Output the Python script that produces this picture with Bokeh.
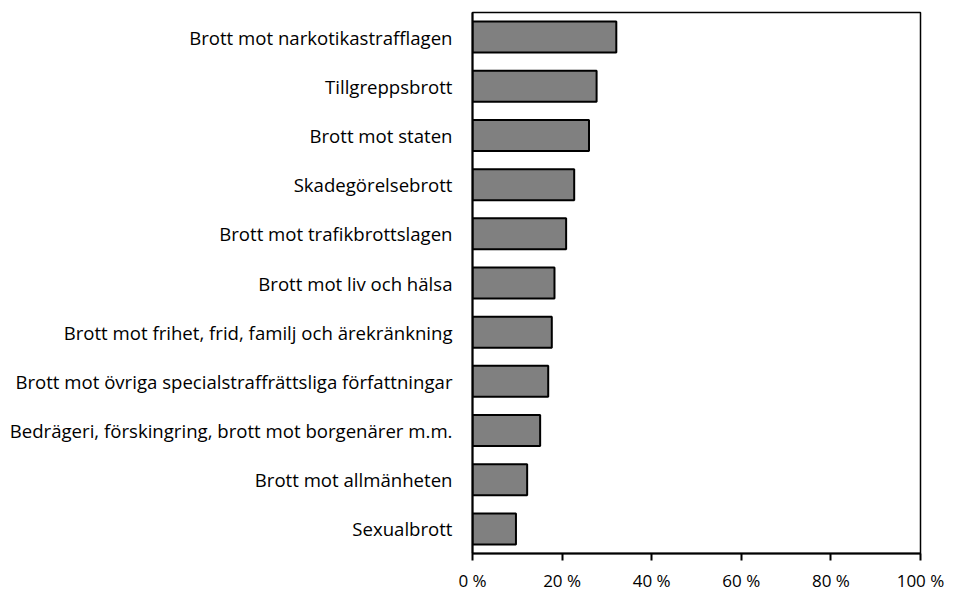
from bokeh.plotting import figure
from bokeh.models import FactorRange, Range1d, FixedTicker, ColumnDataSource
from bokeh.embed import file_html
from bokeh.resources import INLINE

categories = [
    "Brott mot narkotikastrafflagen",
    "Tillgreppsbrott",
    "Brott mot staten",
    "Skadegörelsebrott",
    "Brott mot trafikbrottslagen",
    "Brott mot liv och hälsa",
    "Brott mot frihet, frid, familj och ärekränkning",
    "Brott mot övriga specialstraffrättsliga författningar",
    "Bedrägeri, förskingring, brott mot borgenärer m.m.",
    "Brott mot allmänheten",
    "Sexualbrott",
]
values = [32.1, 27.7, 26.0, 22.7, 20.9, 18.3, 17.7, 16.9, 15.1, 12.2, 9.7]
x_ticks = [0, 20, 40, 60, 80, 100]
x_tick_labels = ["0 %", "20 %", "40 %", "60 %", "80 %", "100 %"]

FONT = "Open Sans"

source = ColumnDataSource(dict(cat=categories, val=values))

p = figure(
    width=959, height=594,
    y_range=FactorRange(factors=list(reversed(categories)), range_padding=0),
    x_range=Range1d(0, 100),
    output_backend="svg", toolbar_location=None,
    min_border_left=472, min_border_right=39, min_border_top=12, min_border_bottom=37,
)
p.hbar(y="cat", left=0, right="val", height=0.63, source=source,
       fill_color="#808080", line_color="black", line_width=2)

p.xgrid.visible = False
p.ygrid.visible = False
p.outline_line_color = "black"
p.outline_line_width = 1.5

p.xaxis.ticker = FixedTicker(ticks=x_ticks)
p.xaxis.major_label_overrides = {t: l for t, l in zip(x_ticks, x_tick_labels)}
p.xaxis.minor_tick_line_color = None
p.xaxis.major_tick_in = 0
p.xaxis.major_tick_out = 7
p.xaxis.major_tick_line_width = 2
p.xaxis.axis_line_width = 2
p.xaxis.major_label_standoff = 8
p.xaxis.major_label_text_font = FONT
p.xaxis.major_label_text_font_size = "17px"
p.xaxis.major_label_text_color = "black"

p.yaxis.major_tick_line_color = None
p.yaxis.minor_tick_line_color = None
p.yaxis.major_tick_in = 0
p.yaxis.major_tick_out = 0
p.yaxis.axis_line_width = 2
p.yaxis.major_label_standoff = 20
p.yaxis.major_label_text_font = FONT
p.yaxis.major_label_text_font_size = "18.6px"
p.yaxis.major_label_text_color = "black"

open("out.html", "w").write(file_html(p, INLINE))
